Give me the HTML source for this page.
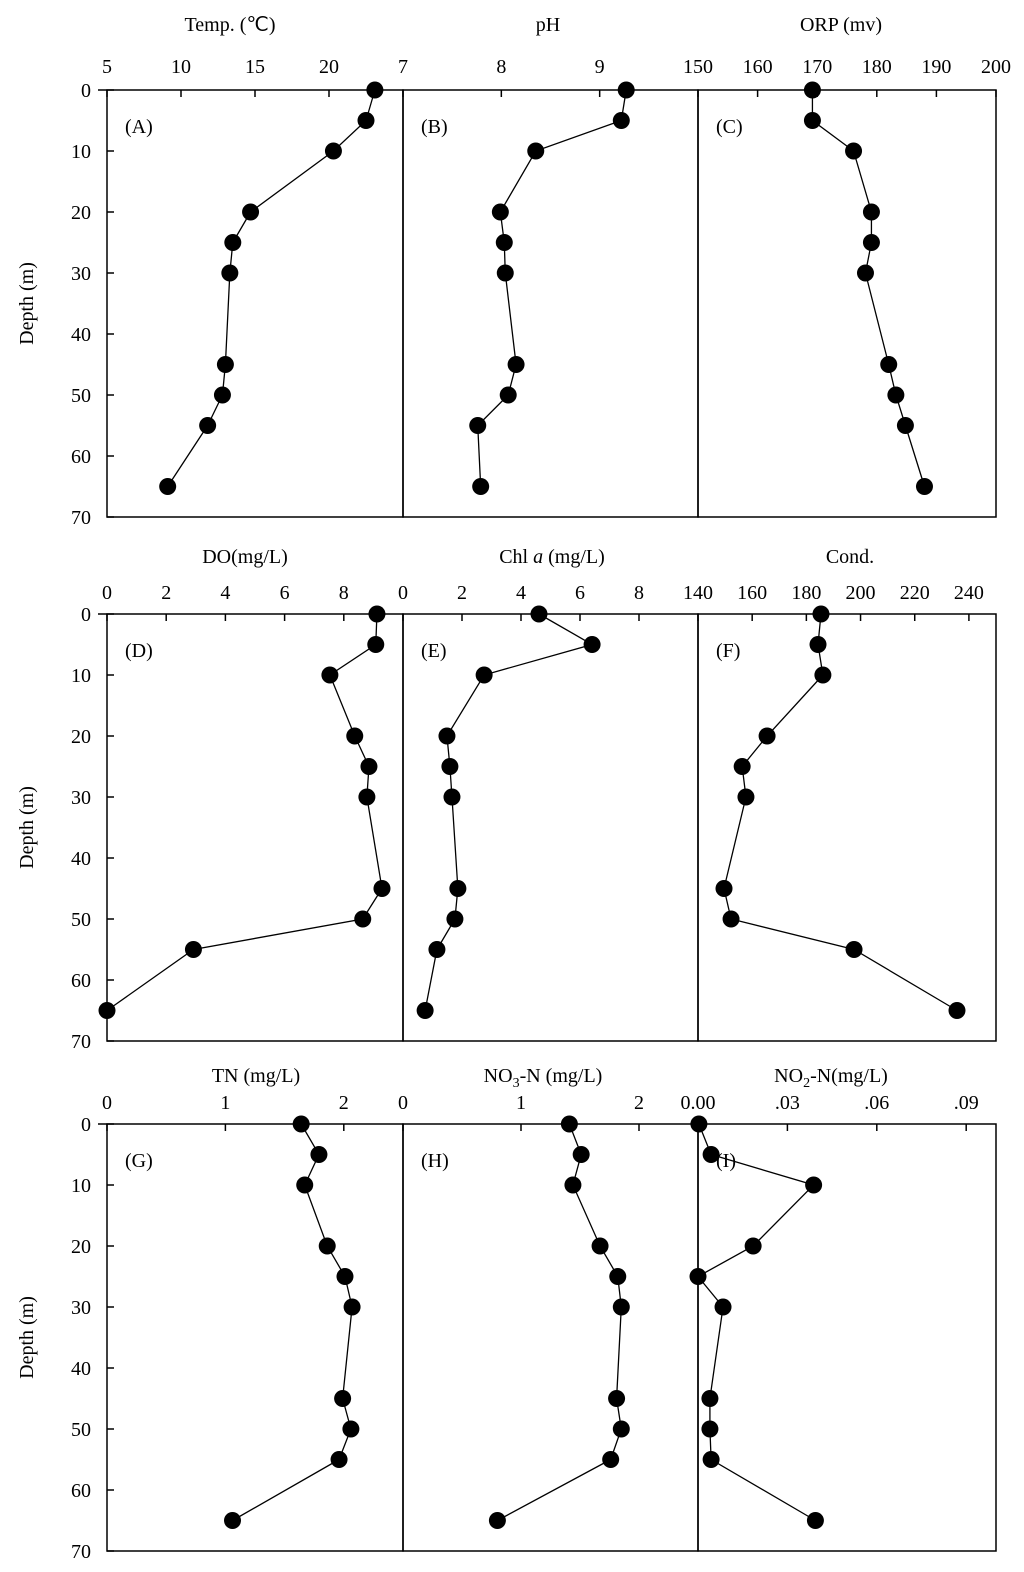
<!DOCTYPE html>
<html><head><meta charset="utf-8"><style>
html,body{margin:0;padding:0;background:#fff;}
svg{display:block;font-family:"Liberation Serif",serif;}
</style></head><body>
<svg id="c" width="1024" height="1572" viewBox="0 0 1024 1572"></svg>
<script>
const depths=[0,5,10,20,25,30,45,50,55,65];
const depthTicks=[0,10,20,30,40,50,60,70];
const tempVals=[23.1,22.5,20.3,14.7,13.5,13.3,13.0,12.8,11.8,9.1];
const phVals=[9.27,9.22,8.35,7.99,8.03,8.04,8.15,8.07,7.76,7.79];
const orpVals=[169.2,169.2,176.1,179.1,179.1,178.1,182.0,183.2,184.8,188.0];
const doVals=[9.12,9.08,7.53,8.37,8.85,8.78,9.29,8.64,2.92,0];
const chlVals=[4.61,6.41,2.75,1.49,1.59,1.66,1.86,1.76,1.15,0.75];
const condVals=[185.4,184.3,186.1,165.5,156.3,157.7,149.6,152.2,197.6,235.6];
const tnVals=[1.64,1.79,1.67,1.86,2.01,2.07,1.99,2.06,1.96,1.06];
const no3Vals=[1.41,1.51,1.44,1.67,1.82,1.85,1.81,1.85,1.76,0.80];
const no2Vals=[0.0003,0.0044,0.0388,0.0185,0,0.0084,0.004,0.004,0.0044,0.0394];
const tempTicks=[5,10,15,20], phTicks=[7,8,9], orpTicks=[150,160,170,180,190,200];
const doTicks=[0,2,4,6,8], chlTicks=[0,2,4,6,8], condTicks=[140,160,180,200,220,240];
const tnTicks=[0,1,2], no3Ticks=[0,1,2], no2Ticks=[0,0.03,0.06,0.09];
const no2Labels=["0.00",".03",".06",".09"];

const NS="http://www.w3.org/2000/svg";
const svg=document.getElementById('c');
function el(t,a,p){const e=document.createElementNS(NS,t);for(const k in a)e.setAttribute(k,a[k]);(p||svg).appendChild(e);return e;}
const rows=[{y0:90,y1:517,tk:-17,ti:-59},{y0:614,y1:1041,tk:-15,ti:-51},{y0:1124,y1:1551,tk:-15,ti:-42}];
const cols=[{x0:107,x1:403},{x0:403,x1:698},{x0:698,x1:996}];
const panels=[
 {r:0,c:0,min:5,max:25,vals:tempVals,ticks:tempTicks,title:"Temp. (\u2103)",tag:"(A)",tx:230,name:"temperature"},
 {r:0,c:1,min:7,max:10,vals:phVals,ticks:phTicks,title:"pH",tag:"(B)",tx:548,name:"ph"},
 {r:0,c:2,min:150,max:200,vals:orpVals,ticks:orpTicks,title:"ORP (mv)",tag:"(C)",tx:841,name:"orp"},
 {r:1,c:0,min:0,max:10,vals:doVals,ticks:doTicks,title:"DO(mg/L)",tag:"(D)",tx:245,name:"do"},
 {r:1,c:1,min:0,max:10,vals:chlVals,ticks:chlTicks,title:"Chl a (mg/L)",tag:"(E)",tx:552,name:"chl-a",chl:true},
 {r:1,c:2,min:140,max:250,vals:condVals,ticks:condTicks,title:"Cond.",tag:"(F)",tx:850,name:"conductivity"},
 {r:2,c:0,min:0,max:2.5,vals:tnVals,ticks:tnTicks,title:"TN (mg/L)",tag:"(G)",tx:256,name:"tn"},
 {r:2,c:1,min:0,max:2.5,vals:no3Vals,ticks:no3Ticks,title:"NO3-N (mg/L)",tag:"(H)",tx:543,name:"no3",sub:"3"},
 {r:2,c:2,min:0,max:0.1,vals:no2Vals,ticks:no2Ticks,labels:no2Labels,title:"NO2-N(mg/L)",tag:"(I)",tx:831,name:"no2",sub:"2"}
];
rows.forEach((R,ri)=>{
  const y=d=>R.y0+(R.y1-R.y0)*d/70;
  const g=el('g',{});
  
  
  el('line',{x1:98,y1:R.y0,x2:107,y2:R.y0,stroke:'#000','stroke-width':1.5},g);
  depthTicks.forEach(d=>{
    el('line',{x1:107,y1:y(d),x2:114,y2:y(d),stroke:'#000','stroke-width':1.5},g);
    const t=el('text',{x:91,y:y(d)+7,'text-anchor':'end','font-size':20},g);t.textContent=d;
  });
  const t=el('text',{x:33,y:(R.y0+R.y1)/2,'text-anchor':'middle','font-size':20,transform:`rotate(-90 33 ${(R.y0+R.y1)/2})`},g);
  t.textContent='Depth (m)';
  
  
});
panels.forEach(p=>{
  const R=rows[p.r],C=cols[p.c];
  const x=v=>C.x0+(C.x1-C.x0)*(v-p.min)/(p.max-p.min);
  const y=d=>R.y0+(R.y1-R.y0)*d/70;
  const g=el('g',{});
  
  
  el('rect',{x:C.x0,y:R.y0,width:C.x1-C.x0,height:R.y1-R.y0,fill:'none',stroke:'#000','stroke-width':1.5},g);
  p.ticks.forEach((v,i)=>{
    el('line',{x1:x(v),y1:R.y0,x2:x(v),y2:R.y0+7,stroke:'#000','stroke-width':1.5},g);
    const t=el('text',{x:x(v),y:R.y0+R.tk,'text-anchor':'middle','font-size':20},g);
    t.textContent=p.labels?p.labels[i]:v;
  });
  const tt=el('text',{x:p.tx,y:R.y0+R.ti,'text-anchor':'middle','font-size':20},g);
  
  
  if(p.chl){tt.innerHTML='Chl <tspan font-style="italic">a</tspan> (mg/L)';}
  else if(p.sub){tt.innerHTML=`NO<tspan font-size="14" dy="5">${p.sub}</tspan><tspan dy="-5">-N${p.name==='no2'?'':' '}(mg/L)</tspan>`;}
  else tt.textContent=p.title;
  const tg=el('text',{x:C.x0+18,y:R.y0+43,'font-size':20},g);tg.textContent=p.tag;
  
  
  const pts=p.vals.map((v,i)=>x(v)+','+y(depths[i])).join(' ');
  const pl=el('polyline',{points:pts,fill:'none',stroke:'#000','stroke-width':1.3},g);
  
  
  p.vals.forEach((v,i)=>{
    const c=el('circle',{cx:x(v),cy:y(depths[i]),r:8.5,fill:'#000'},g);
    
    
  });
});
</script>
</body></html>
